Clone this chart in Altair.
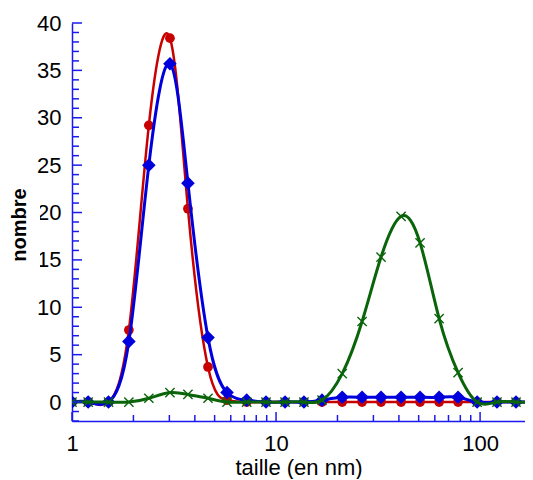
import altair as alt
import pandas as pd

# ---- data ----
sizes = [1.0, 1.2, 1.51, 1.9, 2.38, 3.02, 3.7, 4.64, 5.75, 7.18, 8.93, 11.07, 13.7,
         16.8, 21.1, 26.4, 32.7, 41.0, 50.8, 63.0, 78.0, 96.7, 121.0, 150.0, 186.0]
red_vals = [0, 0, 0, 7.6, 29.2, 38.4, 20.4, 3.7, 0.2, 0, 0, 0, 0,
            0, 0, 0, 0, 0, 0, 0, 0, 0, 0, 0, 0]
blue_vals = [0, 0, 0, 6.4, 25.0, 35.7, 23.1, 6.8, 1.0, 0.2, 0, 0, 0,
             0.2, 0.5, 0.5, 0.5, 0.5, 0.5, 0.5, 0.5, 0, 0, 0, 0]
green_vals = [0, 0, 0, 0, 0.4, 1.0, 0.8, 0.4, 0, 0, 0, 0, 0,
              0.2, 3.0, 8.5, 15.3, 19.6, 16.8, 8.8, 3.1, 0, 0, 0, 0]

x_major = [1, 10, 100]
x_minor = [2, 3, 4, 5, 6, 7, 8, 9, 20, 30, 40, 50, 60, 70, 80, 90]
y_major = [0, 5, 10, 15, 20, 25, 30, 35, 40]
y_minor = [v for v in range(-2, 41) if v % 5 != 0]

RED = "#c80000"
BLUE = "#0000dd"
GREEN = "#0a640a"
AXIS_BLUE = "#1a1aee"
FONT = "Liberation Sans"

xs = alt.Scale(type="log", domain=[1, 166], nice=False)
ys = alt.Scale(domain=[-2, 40], nice=False, zero=False)

xaxis = alt.Axis(values=x_major, format="d", ticks=False, tickSize=0, grid=False,
                 domainColor=AXIS_BLUE, domainWidth=1.5, labelColor="black",
                 labelFont=FONT, labelFontSize=22, labelPadding=12, labelFlush=False,
                 labelOverlap=False, title="taille (en nm)", titleFont=FONT,
                 titleFontSize=22, titleFontWeight="normal", titleColor="black",
                 titleBaseline="alphabetic", titleY=53, zindex=0)
yaxis = alt.Axis(values=y_major, ticks=False, tickSize=0, grid=False,
                 domainColor=AXIS_BLUE, domainWidth=1.5, labelColor="black",
                 labelFont=FONT, labelFontSize=22, labelPadding=11, labelFlush=False,
                 labelOverlap=False, title=None, zindex=0)


def series(vals, color, width, point_mark):
    df = pd.DataFrame({"taille": sizes, "nombre": vals})
    enc = dict(x=alt.X("taille:Q", scale=xs, axis=xaxis),
               y=alt.Y("nombre:Q", scale=ys, axis=yaxis))
    line = alt.Chart(df).mark_line(color=color, strokeWidth=width,
                                   interpolate="natural", clip=True).encode(**enc)
    pts = alt.Chart(df).mark_point(clip=True, opacity=1, **point_mark).encode(**enc)
    return line, pts


one = pd.DataFrame({"a": [0]})
cover = alt.Chart(one).mark_rect(color="white").encode(
    x=alt.value(-70), x2=alt.value(-32), y=alt.value(158), y2=alt.value(250))
ytitle = alt.Chart(one).mark_text(text="nombre", angle=270, font=FONT, fontSize=20,
                                  fontWeight="bold", color="black", align="center",
                                  baseline="middle").encode(
    x=alt.value(-52), y=alt.value(202))

xt_major = alt.Chart(pd.DataFrame({"taille": x_major})).mark_rule(color=AXIS_BLUE, strokeWidth=1.5).encode(
    x=alt.X("taille:Q", scale=xs, axis=xaxis), y=alt.value(398), y2=alt.value(389))
xt_minor = alt.Chart(pd.DataFrame({"taille": x_minor})).mark_rule(color=AXIS_BLUE, strokeWidth=1.5).encode(
    x=alt.X("taille:Q", scale=xs, axis=xaxis), y=alt.value(398), y2=alt.value(392))
yt_major = alt.Chart(pd.DataFrame({"nombre": y_major})).mark_rule(color=AXIS_BLUE, strokeWidth=1.5).encode(
    y=alt.Y("nombre:Q", scale=ys, axis=yaxis), x=alt.value(0), x2=alt.value(10))
yt_minor = alt.Chart(pd.DataFrame({"nombre": y_minor})).mark_rule(color=AXIS_BLUE, strokeWidth=1.5).encode(
    y=alt.Y("nombre:Q", scale=ys, axis=yaxis), x=alt.value(0), x2=alt.value(7))

red_line, red_pts = series(red_vals, RED, 2.5,
                           dict(shape="circle", filled=True, size=95, color=RED))
blue_line, blue_pts = series(blue_vals, BLUE, 3,
                             dict(shape="diamond", filled=True, size=185, color=BLUE))
green_line, green_pts = series(green_vals, GREEN, 3,
                               dict(shape="M-1,-1L1,1M-1,1L1,-1", filled=False, size=85,
                                    color=GREEN, strokeWidth=1.4))

chart = alt.layer(
    red_line, red_pts, blue_line, blue_pts, green_line, green_pts,
    xt_major, xt_minor, yt_major, yt_minor,
    cover, ytitle,
).properties(
    width=453, height=398,
    autosize=alt.AutoSizeParams(type="none"),
    padding={"left": 64, "top": 15, "right": 0, "bottom": 58},
).configure(background="white").configure_view(strokeWidth=0, stroke="transparent")

chart.save("out.html", embed_options={"renderer": "svg", "actions": False})
